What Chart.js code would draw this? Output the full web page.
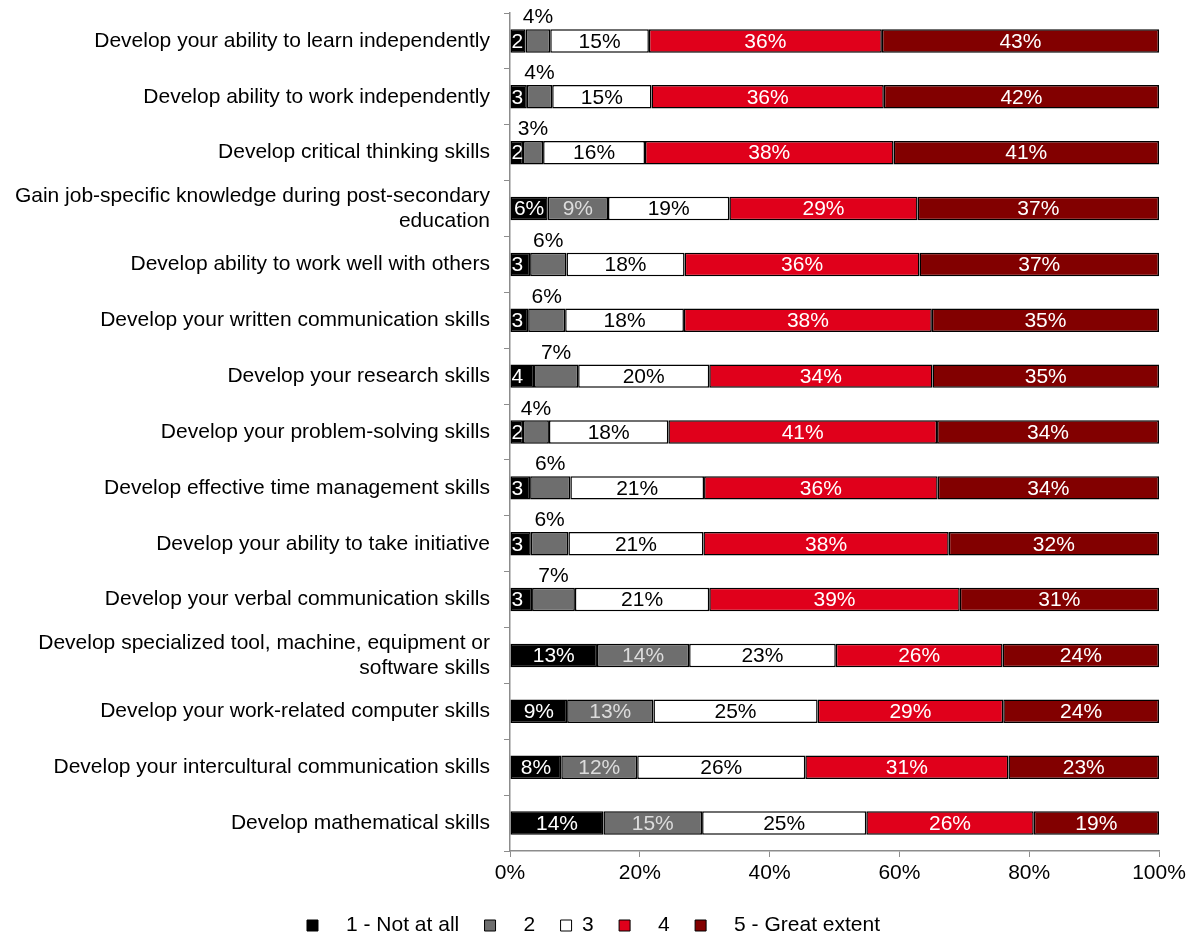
<!DOCTYPE html>
<html>
<head>
<meta charset="utf-8">
<script src="https://cdn.jsdelivr.net/npm/chart.js@4/dist/chart.umd.min.js"></script>
<style>
    body { margin: 0; background: #fff; }
</style>
</head>
<body>
<canvas id="grafico" width="1198" height="935"></canvas>
<script>
const categorias = [
    'Develop your ability to learn independently',
    'Develop ability to work independently',
    'Develop critical thinking skills',
    ['Gain job-specific knowledge during post-secondary', 'education'],
    'Develop ability to work well with others',
    'Develop your written communication skills',
    'Develop your research skills',
    'Develop your problem-solving skills',
    'Develop effective time management skills',
    'Develop your ability to take initiative',
    'Develop your verbal communication skills',
    ['Develop specialized tool, machine, equipment or', 'software skills'],
    'Develop your work-related computer skills',
    'Develop your intercultural communication skills',
    'Develop mathematical skills'
]

// % de respostas em cada nivel da escala
const nivel1 = [2.4, 2.6, 2.0, 5.8, 3.1, 2.8, 3.7, 2.0, 3.1, 3.2, 3.4, 13.4, 8.8, 7.9, 14.4]
const nivel2 = [3.8, 3.9, 3.1, 9.3, 5.6, 5.7, 6.8, 4.0, 6.2, 5.8, 6.6, 14.2, 13.3, 11.7, 15.2]
const nivel3 = [15.2, 15.3, 15.7, 18.7, 18.2, 18.3, 20.2, 18.4, 20.6, 20.8, 20.7, 22.6, 25.3, 25.9, 25.3]
const nivel4 = [35.9, 35.8, 38.3, 29.0, 36.2, 38.2, 34.4, 41.4, 36.0, 37.8, 38.6, 25.7, 28.6, 31.3, 25.8]
const nivel5 = [42.7, 42.4, 40.9, 37.2, 36.9, 35.0, 34.9, 34.2, 34.1, 32.4, 30.7, 24.1, 24.0, 23.2, 19.3]

const series = ['1 - Not at all', '2', '3', '4', '5 - Great extent']
const ticksX = [0, 20, 40, 60, 80, 100]

const cores = ['#000000', '#6e6e6e', '#ffffff', '#e0001b', '#820000']
const corTexto = ['#ffffff', '#dcdcdc', '#000000', '#ffffff', '#ffffff']
const fonte = { family: 'Liberation Sans, Arial, sans-serif', size: 21 }

// escreve o % de cada segmento; os cinzas estreitos vao por cima da barra
const rotulos = {
    id: 'rotulos',
    afterDatasetsDraw(chart) {
        const ctx = chart.ctx
        ctx.save()
        ctx.font = '21px Liberation Sans, Arial, sans-serif'
        ctx.textBaseline = 'middle'
        chart.data.datasets.forEach((ds, i) => {
            chart.getDatasetMeta(i).data.forEach((bar, j) => {
                const v = ds.data[j]
                const ini = bar.base
                const fim = bar.x
                const meio = (ini + fim) / 2
                const topo = bar.y - bar.height / 2
                let texto = Math.round(v) + '%'
                ctx.fillStyle = corTexto[i]
                ctx.textAlign = 'center'
                if (i == 0 && fim - ini < 30) {
                    ctx.textAlign = 'left'
                    ctx.fillText(Math.round(v), ini + 1, bar.y + 1)
                } else if (i == 1 && v < 8) {
                    ctx.fillStyle = '#000'
                    ctx.textBaseline = 'bottom'
                    ctx.fillText(texto, meio, topo - 1)
                    ctx.textBaseline = 'middle'
                } else {
                    ctx.fillText(texto, meio, bar.y + 1)
                }
            })
        })
        ctx.restore()
    }
}

// a legenda fica centrada na largura toda do canvas, nao so ate o padding da direita
const legendaCentro = {
    id: 'legendaCentro',
    afterLayout(chart) {
        chart.legend.left += 14
        chart.legend.right += 14
    }
}

const espacos = ['   ', '   ', '', '   ', '   ']

var ctx = document.getElementById('grafico').getContext('2d')

var grafico = new Chart(ctx, {
    type: 'bar',
    data: {
        labels: categorias,
        datasets: [nivel1, nivel2, nivel3, nivel4, nivel5].map((d, i) => ({
            label: series[i],
            data: d,
            backgroundColor: cores[i],
            borderColor: '#000',
            borderWidth: 1.5,
            borderSkipped: false,
            categoryPercentage: 1,
            barPercentage: 0.42
        }))
    },
    options: {
        indexAxis: 'y',
        responsive: false,
        animation: false,
        layout: { padding: { top: 13, right: 39, left: 0, bottom: -11 } },
        plugins: {
            tooltip: { enabled: false },
            legend: {
                position: 'bottom',
                labels: {
                    color: '#000',
                    font: fonte,
                    boxWidth: 11,
                    boxHeight: 11,
                    padding: 2,
                    generateLabels: chart => {
                        return Chart.defaults.plugins.legend.labels.generateLabels(chart).map((item, i) => {
                            item.text = espacos[i] + item.text + (i < 4 ? '    ' : '')
                            item.lineWidth = 1
                            item.strokeStyle = '#000'
                            return item
                        })
                    }
                }
            }
        },
        scales: {
            x: {
                stacked: true,
                min: 0,
                max: 100,
                afterBuildTicks: scale => { scale.ticks = ticksX.map(v => ({ value: v })) },
                afterFit: scale => { scale.height = 62 },
                ticks: { color: '#000', font: fonte, padding: 4, callback: v => v + '%' },
                grid: { drawOnChartArea: false, tickLength: 6, color: '#8c8c8c' },
                border: { color: '#8c8c8c', width: 1.5 }
            },
            y: {
                stacked: true,
                afterFit: scale => {
                    scale.width = 510
                    scale.paddingTop = 0
                    scale.paddingBottom = 0
                },
                ticks: { color: '#000', font: fonte, padding: 14 },
                grid: { drawOnChartArea: false, tickLength: 6, offset: true, color: '#8c8c8c' },
                border: { color: '#8c8c8c', width: 1.5 }
            }
        }
    },
    plugins: [rotulos, legendaCentro]
})
</script>
</body>
</html>
